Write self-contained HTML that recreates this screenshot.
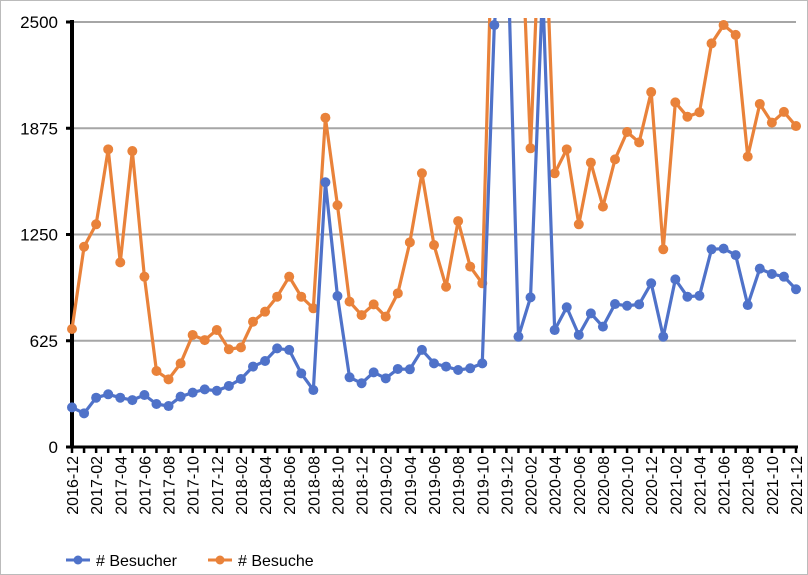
<!DOCTYPE html>
<html><head><meta charset="utf-8"><style>
body{margin:0;background:#fff;font-family:"Liberation Sans",sans-serif}
svg{display:block}
</style></head><body>
<svg id="chart" width="808" height="575" xmlns="http://www.w3.org/2000/svg">
<rect x="0.5" y="0.5" width="807" height="574" fill="#fff" stroke="#bbb"/>
<defs><clipPath id="clip"><rect x="60" y="18" width="745" height="440"/></clipPath></defs>
<g id="grid"></g>
<g id="axes"></g>
<g id="series" clip-path="url(#clip)"></g>
<g id="legend">
  <g>
    <line x1="66" y1="560" x2="90" y2="560" stroke="#4f72c9" stroke-width="3"/>
    <circle cx="78" cy="560" r="4.5" fill="#4f72c9"/>
    <text x="96" y="566" font-size="16" fill="#000">#  Besucher</text>
  </g>
  <g>
    <line x1="208" y1="560" x2="232" y2="560" stroke="#e9823a" stroke-width="3"/>
    <circle cx="220" cy="560" r="4.5" fill="#e9823a"/>
    <text x="238" y="566" font-size="16" fill="#000">#  Besuche</text>
  </g>
</g>
</svg>
<script>
const months = [];
for (let y=2016,m=12;;) { months.push(y+"-"+String(m).padStart(2,"0")); if(y===2021&&m===12)break; m++; if(m>12){m=1;y++;} }
const yTicks = [0,625,1250,1875,2500];
const besucher = [233,198,290,310,290,276,306,253,241,296,320,339,331,359,400,473,506,580,571,433,335,1557,888,410,375,439,404,459,457,571,492,473,453,463,492,2482,3200,649,880,2700,688,822,659,786,708,841,831,839,963,649,986,884,890,1163,1167,1129,835,1049,1018,1002,928];
const besuche = [694,1178,1310,1751,1086,1741,1002,447,398,492,659,629,688,575,586,737,796,884,1002,884,816,1937,1422,855,776,839,767,904,1204,1610,1188,943,1329,1061,963,3500,3500,3500,1757,3500,1610,1751,1310,1673,1414,1692,1853,1792,2088,1163,2027,1943,1969,2374,2482,2424,1708,2018,1908,1971,1888];
const X0=72,X1=796,Y0=447,Y1=22,VMAX=2500;
const xs=i=>X0+(X1-X0)*i/(months.length-1);
const ys=v=>Y0-(Y0-Y1)*v/VMAX;
const NS="http://www.w3.org/2000/svg";
function mk(tag,attrs,parent){const e=document.createElementNS(NS,tag);for(const k in attrs)e.setAttribute(k,attrs[k]);parent.appendChild(e);return e;}
const grid=document.getElementById('grid'),axes=document.getElementById('axes'),series=document.getElementById('series');
yTicks.forEach(t=>{
  if(t>0){const g=mk('line',{x1:X0,x2:X1,y1:ys(t),y2:ys(t),stroke:'#a6a6a6','stroke-width':2},grid);
  
  }
  const tk=mk('line',{x1:X0-6,x2:X0,y1:ys(t),y2:ys(t),stroke:'#000','stroke-width':3},axes);
  
  
  const tx=mk('text',{x:X0-14,y:ys(t)+6,'text-anchor':'end','font-size':17,fill:'#000'},axes);
  tx.textContent=t;
  
  
});
const ya=mk('line',{x1:X0,x2:X0,y1:Y1-2,y2:Y0+1.5,stroke:'#000','stroke-width':4},axes);


const xa=mk('line',{x1:X0-6,x2:X1+2,y1:Y0,y2:Y0,stroke:'#000','stroke-width':3},axes);


months.forEach((m,i)=>{
  const x=xs(i);
  const tk=mk('line',{x1:x,x2:x,y1:Y0,y2:Y0+6,stroke:'#000','stroke-width':2.5},axes);
  
  
  if(i%2===0){
    const t=mk('text',{x:0,y:0,'text-anchor':'end','font-size':16,fill:'#000',transform:`translate(${x+6},${Y0+9}) rotate(-90)`},axes);
    t.textContent=m;
    
    
  }
});
function drawSeries(vals,color,name){
  const g=mk('g',{},series);
  
  
  const p=mk('polyline',{points:vals.map((v,i)=>xs(i)+','+ys(v)).join(' '),fill:'none',stroke:color,'stroke-width':3.2,'stroke-linejoin':'round'},g);
  
  
  vals.forEach((v,i)=>{
    const c=mk('circle',{cx:xs(i),cy:ys(v),r:5,fill:color},g);
    
    
  });
}
drawSeries(besuche,'#e9823a','besuche');
drawSeries(besucher,'#4f72c9','besucher');
</script>
</body></html>
